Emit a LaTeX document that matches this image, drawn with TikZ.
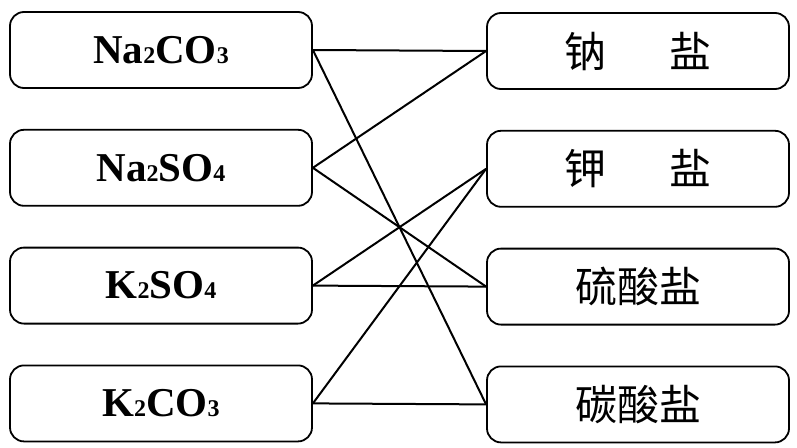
\documentclass[tikz,border=0pt]{standalone}
\usepackage{fontspec}
\setmainfont{Liberation Serif}
\newfontfamily\cjk{Noto Sans CJK SC}
\usetikzlibrary{positioning}
\tikzset{
  salt/.style={draw,rounded corners=14pt,minimum width=302pt,minimum height=76pt,
    line width=1.8pt,inner sep=0pt},
  form/.style={salt,font=\fontsize{41}{41}\selectfont\bfseries},
  kind/.style={salt,font=\fontsize{42}{42}\selectfont\cjk},
  link/.style={line width=2pt},
  node distance=40pt
}
\newcommand{\subnum}[1]{{\fontsize{24}{24}\selectfont #1}}

\begin{document}
\begin{tikzpicture}[x=1pt,y=-1pt]
  \useasboundingbox (0,0) rectangle (797,447);
  % formulas
  \node[form] (nco) at (161,50) {Na\subnum{2}CO\subnum{3}};
  \node[form,below=of nco] (nso) {Na\subnum{2}SO\subnum{4}};
  \node[form,below=of nso] (kso) {K\subnum{2}SO\subnum{4}};
  \node[form,below=of kso] (kco) {K\subnum{2}CO\subnum{3}};
  % kinds of salt
  \node[kind] (na) at (638,51) {钠\hspace{1.5em}盐};
  \node[kind,below=of na] (k) {钾\hspace{1.5em}盐};
  \node[kind,below=of k] (so) {硫酸盐};
  \node[kind,below=of so] (co) {碳酸盐};
  \foreach \a/\b in {nco/na,nco/co,nso/na,nso/so,kso/k,kso/so,kco/k,kco/co}
    \draw[link] (\a.east) -- (\b.west);
\end{tikzpicture}
\end{document}
